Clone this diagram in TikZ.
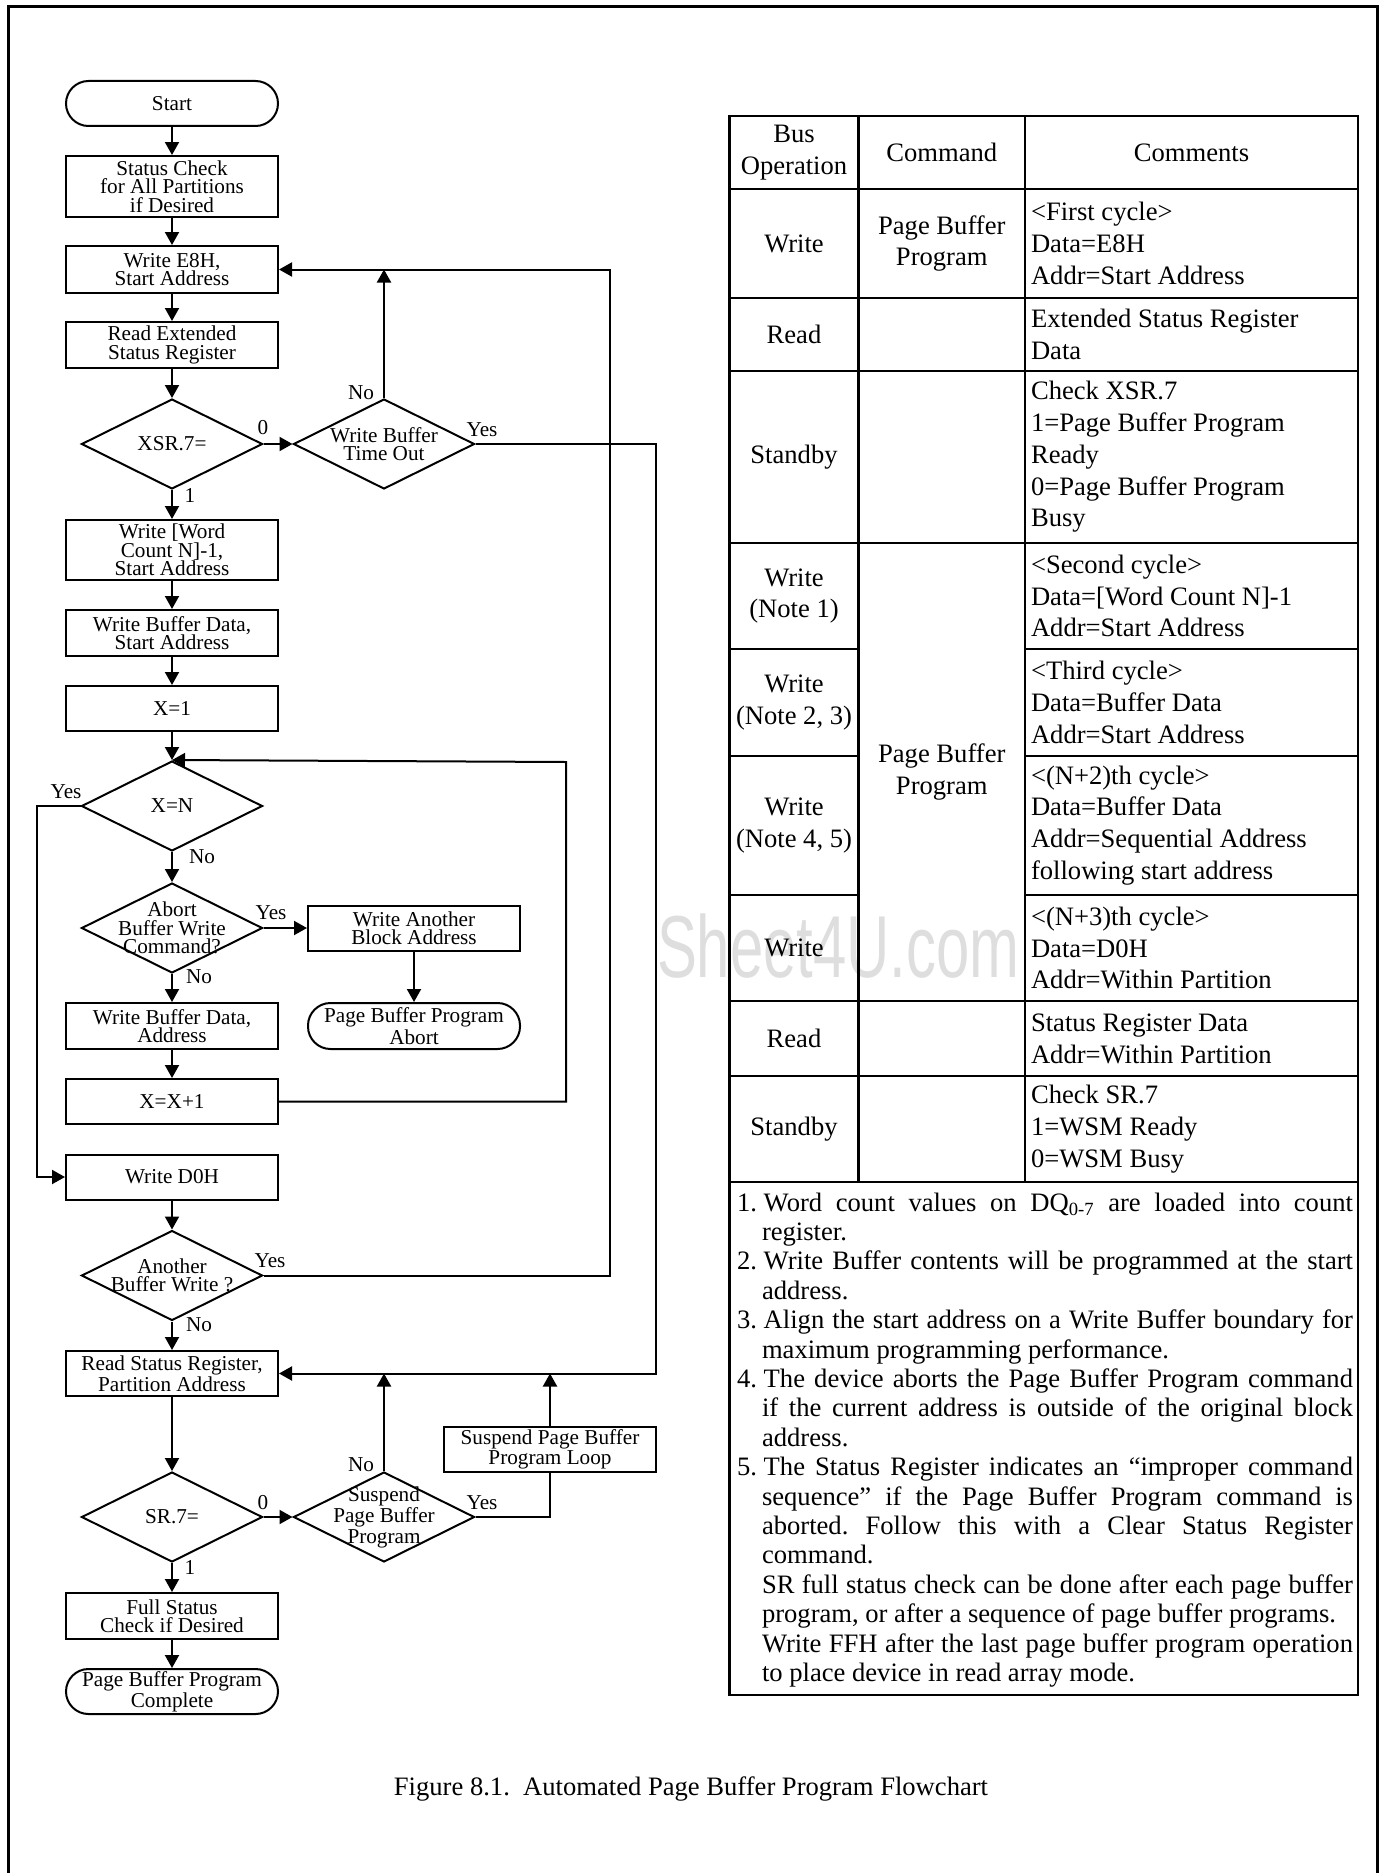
\documentclass[tikz,border=0pt]{standalone}
\usepackage{fontspec}
\usepackage{graphicx}
\setmainfont{Liberation Serif}
\newfontfamily\wmfont{Liberation Sans}
\usetikzlibrary{shapes.geometric,arrows.meta}
\newcommand\fcfont{\fontsize{10.6}{9.2}\selectfont}
\newcommand\tbfont{\fontsize{13.3}{15.9}\selectfont}
\newcommand\noteitem[1]{\par\hangindent=12.5pt\hangafter=1 #1.\hspace{3.4pt}\ignorespaces}
\begin{document}
\begin{tikzpicture}[x=0.5pt,y=-0.5pt,line width=1pt,
  box/.style={draw, minimum width=106pt, inner sep=0pt, align=center, font=\fcfont},
  term/.style={box, rounded corners=11.25pt},
  dia/.style={draw, diamond, inner sep=0pt, minimum width=90.5pt, minimum height=45pt},
  dtext/.style={font=\fcfont, align=center, inner sep=0pt},
  lbl/.style={font=\fcfont, inner sep=0pt},
  arr/.style={-{Triangle[length=6.5pt,width=7pt]}},
  tb/.style={font=\tbfont, align=center, inner sep=0pt},
  cmt/.style={font=\tbfont, align=left, inner sep=0pt, anchor=west},
  tline/.style={line width=1.2pt}]
\useasboundingbox (0,0) rectangle (1383,1873);
% outer frame
\draw[line width=1.5pt] (8,1873) -- (8,7) -- (1377,7) -- (1377,1873);
% watermark
\node[text=black!13, font=\wmfont\fontsize{44}{44}\selectfont, anchor=base west, inner sep=0pt] (wm) at (656,977) {\scalebox{0.68}[1]{Sheet4U.com}};

% ---------- flowchart ----------
\node[term, minimum height=22.5pt] (start) at (172,103.5) {Start};
\node[box, minimum height=30.5pt] (sc) at (172,186.5) {Status Check\\for All Partitions\\if Desired};
\node[box, minimum height=23.5pt] (we8h) at (172,269.5) {Write E8H,\\Start Address};
\node[box, minimum height=23pt] (rext) at (172,345) {Read Extended\\Status Register};
\node[dia, label={[dtext]center:XSR.7=}] (xsr) at (172,444) {};
\node[dia, label={[dtext]center:Write Buffer\\Time Out}] (wbto) at (384,444) {};
\node[box, minimum height=30pt] (wwc) at (172,550) {Write [Word\\Count N]-1,\\Start Address};
\node[box, minimum height=23pt] (wbds) at (172,633) {Write Buffer Data,\\Start Address};
\node[box, minimum height=22.5pt] (x1) at (172,708.5) {X=1};
\node[dia, label={[dtext]center:X=N}] (xn) at (172,806) {};
\node[dia, label={[dtext]center:Abort\\Buffer Write\\Command?}] (abort) at (172,928) {};
\node[box, minimum height=22.5pt] (wab) at (414,928) {Write Another\\Block Address};
\node[term, minimum height=23pt] (pbpa) at (414,1026) {Page Buffer Program\\Abort};
\node[box, minimum height=23pt] (wbda) at (172,1026) {Write Buffer Data,\\Address};
\node[box, minimum height=22.5pt] (xx1) at (172,1101.5) {X=X+1};
\node[box, minimum height=22.5pt] (wd0h) at (172,1177) {Write D0H};
\node[dia, label={[dtext]center:Another\\Buffer Write ?}] (another) at (172,1275.5) {};
\node[box, minimum height=22.5pt] (rsr) at (172,1373.5) {Read Status Register,\\Partition Address};
\node[dia, label={[dtext]center:SR.7=}] (sr7) at (172,1517) {};
\node[dia, label={[dtext]center:Suspend\\Page Buffer\\Program}] (susp) at (384,1517) {};
\node[box, minimum height=22.5pt] (spbl) at (550,1449.5) {Suspend Page Buffer\\Program Loop};
\node[box, minimum height=23pt] (fsc) at (172,1616) {Full Status\\Check if Desired};
\node[term, minimum height=22.5pt] (done) at (172,1691.5) {Page Buffer Program\\Complete};

% main column arrows
\draw[arr] (start) -- (sc);
\draw[arr] (sc) -- (we8h);
\draw[arr] (we8h) -- (rext);
\draw[arr] (rext) -- (xsr);
\draw[arr] (xsr) -- (wwc);
\draw[arr] (wwc) -- (wbds);
\draw[arr] (wbds) -- (x1);
\draw[arr] (x1) -- (xn);
\draw[arr] (xn) -- (abort);
\draw[arr] (abort) -- (wbda);
\draw[arr] (wbda) -- (xx1);
\draw[arr] (wd0h) -- (another);
\draw[arr] (another) -- (rsr);
\draw[arr] (rsr) -- (sr7);
\draw[arr] (sr7) -- (fsc);
\draw[arr] (fsc) -- (done);
\draw[arr] (xsr) -- (wbto);
\draw[arr] (abort) -- (wab);
\draw[arr] (wab) -- (pbpa);
\draw[arr] (sr7) -- (susp);

% loops
\coordinate (rA) at (610,269.5);
\coordinate (rB) at (656,1373.5);
\coordinate (rC) at (566,762);
\coordinate (rD) at (37,806);
\draw[arr] (wbto.north) -- (wbto.north |- we8h.east);
\draw[arr] (another.east) -| (rA) -- (we8h.east);
\draw[arr] (wbto.east) -| (rB) -- (rsr.east);
\draw[arr] (xx1.east) -| (rC) -- (xn.north);
\draw[arr] (xn.west) -- (rD) |- (wd0h.west);
\draw[arr] (susp.north) -- (susp.north |- rsr.east);
\draw[arr] (spbl.north) -- (spbl.north |- rsr.east);
\draw (susp.east) -| (spbl.south);

% labels
\node[lbl] (l1) at (263,428) {0};
\node[lbl] (l2) at (190,495) {1};
\node[lbl] (l3) at (361,393) {No};
\node[lbl] (l4) at (482,430) {Yes};
\node[lbl] (l5) at (66,792) {Yes};
\node[lbl] (l6) at (202,857) {No};
\node[lbl] (l7) at (271,913) {Yes};
\node[lbl] (l8) at (199,977) {No};
\node[lbl] (l9) at (270,1261) {Yes};
\node[lbl] (l10) at (199,1325) {No};
\node[lbl] (l11) at (361,1465) {No};
\node[lbl] (l12) at (263,1503) {0};
\node[lbl] (l13) at (482,1503) {Yes};
\node[lbl] (l14) at (190,1567) {1};

% ---------- table ----------
\draw[tline] (729.6,116) rectangle (1358,1695);
\foreach \yy in {189,298,371,543,1001,1076,1182}
  \draw[tline] (729.6,\yy) -- (1358,\yy);
\foreach \yy in {649,756,895} {
  \draw[tline] (729.6,\yy) -- (858.5,\yy);
  \draw[tline] (1025,\yy) -- (1358,\yy);
}
\draw[tline] (858.5,116) -- (858.5,1182);
\draw[tline] (1025,116) -- (1025,1182);

\node[tb] (h1) at (794,152.5) {Bus\\Operation};
\node[tb] (h2) at (941.75,152.5) {Command};
\node[tb] (h3) at (1191.5,152.5) {Comments};

\node[tb] (a1) at (794,243.5) {Write};
\node[tb] (a2) at (794,334.5) {Read};
\node[tb] (a3) at (794,457) {Standby};
\node[tb] (a4) at (794,596) {Write\\(Note 1)};
\node[tb] (a5) at (794,702.5) {Write\\(Note 2, 3)};
\node[tb] (a6) at (794,825.5) {Write\\(Note 4, 5)};
\node[tb] (a7) at (794,948) {Write};
\node[tb] (a8) at (794,1038.5) {Read};
\node[tb] (a9) at (794,1129) {Standby};

\node[tb] (b1) at (941.75,243.5) {Page Buffer\\Program};
\node[tb] (b2) at (941.75,772) {Page Buffer\\Program};

\node[cmt] (c1) at (1030,243.5) {<First cycle>\\Data=E8H\\Addr=Start Address};
\node[cmt] (c2) at (1030,334.5) {Extended Status Register\\Data};
\node[cmt] (c3) at (1030,457) {Check XSR.7\\1=Page Buffer Program\\Ready\\0=Page Buffer Program\\Busy};
\node[cmt] (c4) at (1030,596) {<Second cycle>\\Data=[Word Count N]-1\\Addr=Start Address};
\node[cmt] (c5) at (1030,702.5) {<Third cycle>\\Data=Buffer Data\\Addr=Start Address};
\node[cmt] (c6) at (1030,825.5) {<(N+2)th cycle>\\Data=Buffer Data\\Addr=Sequential Address\\following start address};
\node[cmt] (c7) at (1030,948) {<(N+3)th cycle>\\Data=D0H\\Addr=Within Partition};
\node[cmt] (c8) at (1030,1038.5) {Status Register Data\\Addr=Within Partition};
\node[cmt] (c9) at (1030,1129) {Check SR.7\\1=WSM Ready\\0=WSM Busy};

% notes
\node[anchor=base west, inner sep=0pt] (notes) at (736,1211) {\parbox[t]{308pt}{\fontsize{13.3}{14.7}\selectfont
\frenchspacing\hyphenpenalty=10000 \exhyphenpenalty=10000 \parindent=0pt \parskip=0pt
\noteitem{1} Word count values on DQ\textsubscript{0-7} are loaded into count\linebreak register.
\noteitem{2} Write Buffer contents will be programmed at the start\linebreak address.
\noteitem{3} Align the start address on a Write Buffer boundary for\linebreak maximum programming performance.
\noteitem{4} The device aborts the Page Buffer Program command\linebreak if the current address is outside of the original block\linebreak address.
\noteitem{5} The Status Register indicates an “improper command\linebreak sequence” if the Page Buffer Program command is\linebreak aborted. Follow this with a Clear Status Register\linebreak command.
\par\leftskip=12.5pt SR full status check can be done after each page buffer\linebreak program, or after a sequence of page buffer programs.
\par Write FFH after the last page buffer program operation\linebreak to place device in read array mode.\par}};

% caption
\node[font=\tbfont, inner sep=0pt] (cap) at (691,1789) {Figure 8.1.\ \ Automated Page Buffer Program Flowchart};
\end{tikzpicture}
\end{document}
